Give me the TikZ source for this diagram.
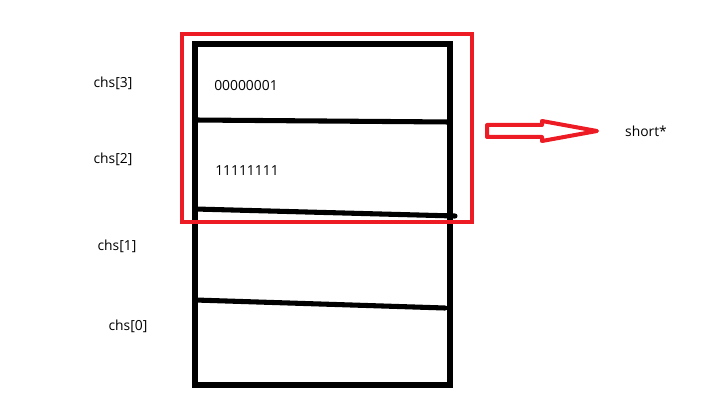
\documentclass[tikz,border=0pt]{standalone}
\usepackage{fontspec}
\setmainfont{Open Sans}
\usetikzlibrary{positioning}
\definecolor{paintred}{RGB}{237,28,36}

\begin{document}
\begin{tikzpicture}[x=0.75pt,y=-0.75pt,
    every node/.style={font=\fontsize{10.4}{12}\selectfont,inner sep=0pt},
    wall/.style={black,line width=3.8pt,line cap=rect},
    frame/.style={paintred,line width=3pt},
    bits/.style={anchor=west}]
    \useasboundingbox (0,0) rectangle (704,410);
    % memory block
    \coordinate (tl) at (195,44);
    \coordinate (br) at (450,385);
    \draw[wall] (tl) rectangle (br);
    \draw[wall,line cap=round] (195,120) -- (450,122); % chs[3] / chs[2]
    \draw[wall,line cap=round] (195,209) -- (455,216); % chs[2] / chs[1]
    \draw[wall,line cap=round] (195,300) -- (445,308); % chs[1] / chs[0]
    % byte labels
    \foreach \n/\x/\y in {3/113/83,2/113/159,1/117/246,0/128/326} {
        \node (chs\n) at (\x,\y) {chs[\n]};
    }
    \node[bits] (b3) at (214,86) {00000001};
    \node[bits] (b2) at (215,171) {11111111};
    % the two bytes read as one short
    \draw[frame] (182,34) rectangle (472,222);
    \coordinate (a0) at (487,131);
    \draw[frame,line join=round] (a0) ++(0,-6) -- ++(55,0) -- ++(0,-4) -- (597,131)
        -- (542,141) -- ++(0,-4) -- ++(-55,0) -- cycle;
    \node (ptr) at (646,131) {short*};
\end{tikzpicture}
\end{document}
